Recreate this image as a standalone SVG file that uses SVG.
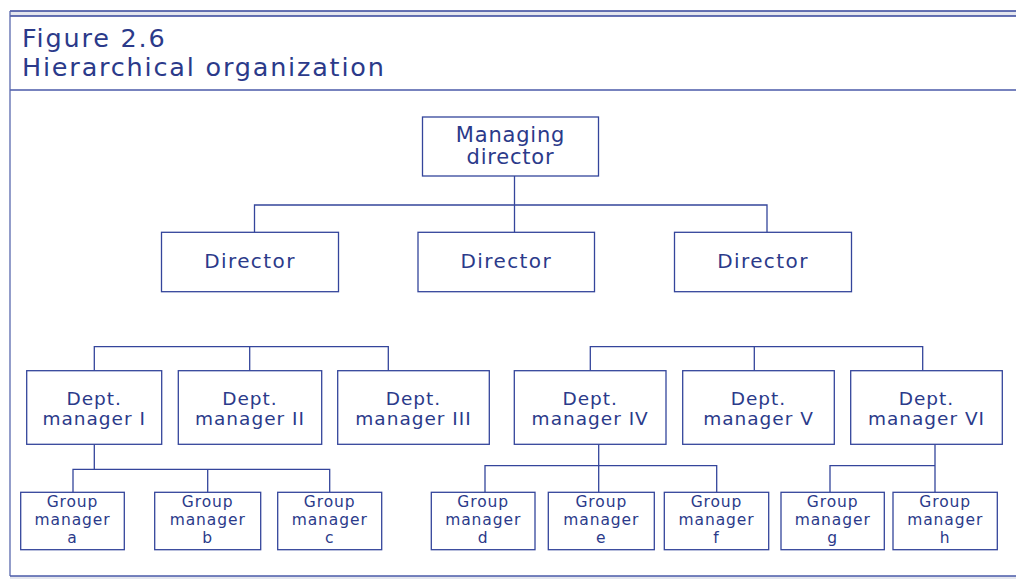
<svg xmlns="http://www.w3.org/2000/svg" width="1016" height="579" viewBox="0 0 1016 579">
<style>
.box{fill:#fff;stroke:#34459b;stroke-width:1.3}
.ln{fill:none;stroke:#34459b;stroke-width:1.3}
text{font-family:"DejaVu Sans","Verdana",sans-serif;fill:#2b3a8a;text-anchor:middle}
.t{font-size:25.5px;letter-spacing:1.8px;text-anchor:start}
.md{font-size:21px;letter-spacing:0.8px}
.dir{font-size:20px;letter-spacing:1.4px}
.dp{font-size:18.5px;letter-spacing:1px}
.gp{font-size:15.5px;letter-spacing:0.9px}
</style>
<rect x="0" y="0" width="1016" height="579" fill="#fff"/>
<g id="frame">
<rect x="10" y="11" width="1006" height="5" fill="#e4e6ee"/>
<line x1="10" y1="11" x2="1016" y2="11" stroke="#34459b" stroke-width="1.3"/>
<line x1="10" y1="16" x2="1016" y2="16" stroke="#34459b" stroke-width="1.3"/>
<line x1="10" y1="90" x2="1016" y2="90" stroke="#4a5aa8" stroke-width="1.3"/>
<line x1="10" y1="11" x2="10" y2="576" stroke="#5868ad" stroke-width="1.3"/>
<rect x="10" y="576" width="1006" height="3" fill="#e4e6ee"/>
<line x1="10" y1="576" x2="1016" y2="576" stroke="#4a5aa8" stroke-width="1.3"/>
<text class="t" x="22" y="46.5">Figure 2.6</text>
<text class="t" x="22" y="75.5">Hierarchical organization</text>
</g>
<g id="connectors">
<path class="ln" d="M514.5 176V232.3M254.5 232.3V205H767V232.3"/>
<path class="ln" d="M94.3 370.7V346.7H388.3V370.7M249.7 346.7V370.7"/>
<path class="ln" d="M590.3 370.7V346.7H922.7V370.7M754.3 346.7V370.7"/>
<path class="ln" d="M94.3 444.3V469.3M73 492.3V469.3H329.7V492.3M207.7 469.3V492.3"/>
<path class="ln" d="M598.7 444.3V492.3M485 492.3V465.7H716.7V492.3"/>
<path class="ln" d="M935 444.3V492.3M830 492.3V465.7H935"/>
</g>
<g id="md"><rect class="box" x="422.5" y="117" width="176" height="59"/><text class="md" x="510.5" y="142">Managing</text><text class="md" x="510.5" y="164">director</text></g>
<g id="dir1"><rect class="box" x="161.5" y="232.3" width="177" height="59.4"/><text class="dir" x="250" y="267.7">Director</text></g>
<g id="dir2"><rect class="box" x="418" y="232.3" width="176.5" height="59.4"/><text class="dir" x="506.3" y="267.7">Director</text></g>
<g id="dir3"><rect class="box" x="674.5" y="232.3" width="177" height="59.4"/><text class="dir" x="763" y="267.7">Director</text></g>
<g id="dept1"><rect class="box" x="26.7" y="370.7" width="135" height="73.6"/><text class="dp" x="94.2" y="405">Dept.</text><text class="dp" x="94.2" y="424.5">manager I</text></g>
<g id="dept2"><rect class="box" x="178.3" y="370.7" width="143.4" height="73.6"/><text class="dp" x="250" y="405">Dept.</text><text class="dp" x="250" y="424.5">manager II</text></g>
<g id="dept3"><rect class="box" x="337.7" y="370.7" width="151.6" height="73.6"/><text class="dp" x="413.5" y="405">Dept.</text><text class="dp" x="413.5" y="424.5">manager III</text></g>
<g id="dept4"><rect class="box" x="514.3" y="370.7" width="151.7" height="73.6"/><text class="dp" x="590.2" y="405">Dept.</text><text class="dp" x="590.2" y="424.5">manager IV</text></g>
<g id="dept5"><rect class="box" x="682.7" y="370.7" width="151.6" height="73.6"/><text class="dp" x="758.5" y="405">Dept.</text><text class="dp" x="758.5" y="424.5">manager V</text></g>
<g id="dept6"><rect class="box" x="850.7" y="370.7" width="151.6" height="73.6"/><text class="dp" x="926.5" y="405">Dept.</text><text class="dp" x="926.5" y="424.5">manager VI</text></g>
<g id="ga"><rect class="box" x="20.7" y="492.3" width="103.6" height="57.4"/><text class="gp" x="72.5" y="507.3">Group</text><text class="gp" x="72.5" y="525">manager</text><text class="gp" x="72.5" y="542.7">a</text></g>
<g id="gb"><rect class="box" x="154.7" y="492.3" width="106" height="57.4"/><text class="gp" x="207.7" y="507.3">Group</text><text class="gp" x="207.7" y="525">manager</text><text class="gp" x="207.7" y="542.7">b</text></g>
<g id="gc"><rect class="box" x="277.7" y="492.3" width="104" height="57.4"/><text class="gp" x="329.7" y="507.3">Group</text><text class="gp" x="329.7" y="525">manager</text><text class="gp" x="329.7" y="542.7">c</text></g>
<g id="gd"><rect class="box" x="431.3" y="492.3" width="103.7" height="57.4"/><text class="gp" x="483.2" y="507.3">Group</text><text class="gp" x="483.2" y="525">manager</text><text class="gp" x="483.2" y="542.7">d</text></g>
<g id="ge"><rect class="box" x="548.3" y="492.3" width="106" height="57.4"/><text class="gp" x="601.3" y="507.3">Group</text><text class="gp" x="601.3" y="525">manager</text><text class="gp" x="601.3" y="542.7">e</text></g>
<g id="gf"><rect class="box" x="664.3" y="492.3" width="104.4" height="57.4"/><text class="gp" x="716.5" y="507.3">Group</text><text class="gp" x="716.5" y="525">manager</text><text class="gp" x="716.5" y="542.7">f</text></g>
<g id="gg"><rect class="box" x="781" y="492.3" width="103.3" height="57.4"/><text class="gp" x="832.7" y="507.3">Group</text><text class="gp" x="832.7" y="525">manager</text><text class="gp" x="832.7" y="542.7">g</text></g>
<g id="gh"><rect class="box" x="893" y="492.3" width="104.3" height="57.4"/><text class="gp" x="945.2" y="507.3">Group</text><text class="gp" x="945.2" y="525">manager</text><text class="gp" x="945.2" y="542.7">h</text></g>
</svg>
